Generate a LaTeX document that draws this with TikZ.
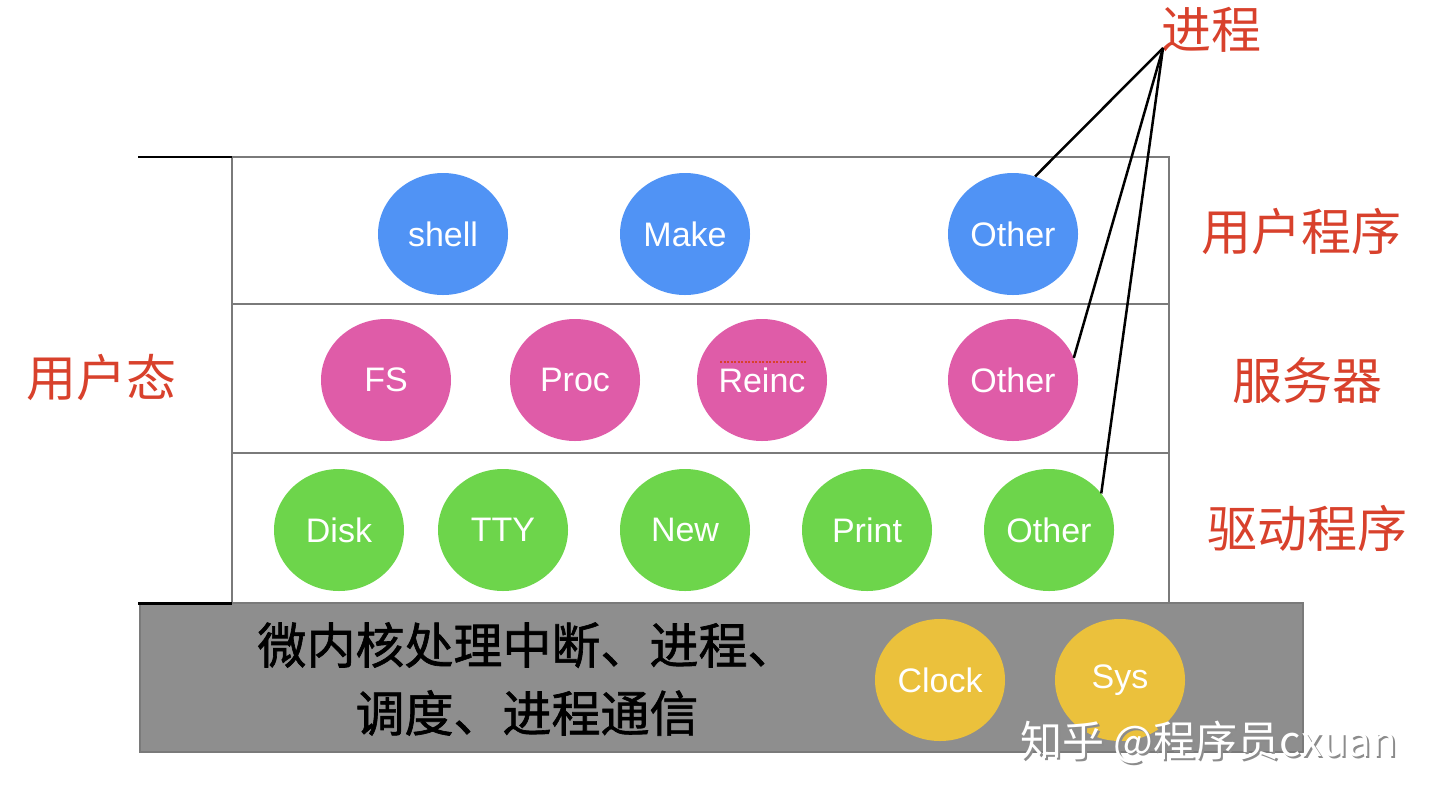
\documentclass[tikz,border=0pt]{standalone}
\usepackage{fontspec}
\setmainfont{Liberation Sans}
\newfontfamily\cjk{Noto Sans CJK SC}
\newfontfamily\cjkheavy[FakeBold=1.3]{Noto Sans CJK SC}
\usetikzlibrary{shapes.geometric}
\definecolor{cblue}{HTML}{5093F5}
\definecolor{cpink}{HTML}{DF5CA8}
\definecolor{cgreen}{HTML}{6DD54B}
\definecolor{cyellow}{HTML}{EBC13C}
\definecolor{cgray}{HTML}{8E8E8E}
\definecolor{cred}{HTML}{D8412C}
\definecolor{cline}{HTML}{7A7A7A}
\tikzset{
  proc/.style={ellipse, minimum width=130pt, minimum height=122pt, inner sep=0pt,
    text=white, font=\fontsize{34}{36}\selectfont},
  ublue/.style={proc, fill=cblue},
  upink/.style={proc, fill=cpink},
  ugreen/.style={proc, fill=cgreen},
  uyellow/.style={proc, fill=cyellow},
  redlabel/.style={text=cred, font=\cjk\fontsize{50}{54}\selectfont, inner sep=0pt},
  layer/.style={draw=cline, line width=2pt},
  link/.style={draw=black, line width=2.5pt},
  wmark/.style={font=\cjk\fontsize{42}{44}\selectfont, inner sep=0pt, anchor=west},
}
\begin{document}
\begin{tikzpicture}[x=1pt,y=-1pt]
\useasboundingbox (0,0) rectangle (1440,804);
% layers
\draw[layer] (232,157) rectangle (1169,603);
\draw[layer] (232,304) -- (1169,304);
\draw[layer] (232,453) -- (1169,453);
\draw[line width=2.5pt] (138,157) -- (232,157);
% kernel
\draw[fill=cgray, draw=cline, line width=2pt] (140,603) rectangle (1303,752);
\draw[line width=3pt] (138,603) -- (232,603);
\node[font=\cjkheavy\fontsize{49}{68}\selectfont, align=center, text=black, inner sep=0pt]
  (kern) at (527,679) {微内核处理中断、进程、\\调度、进程通信};
% user programs
\node[ublue] (shell) at (443,234) {shell};
\node[ublue] (make) at (685,234) {Make};
\node[ublue] (uo) at (1013,234) {Other};
% servers
\node[upink] (fs) at (386,380) {FS};
\node[upink] (procn) at (575,380) {Proc};
\node[upink] (reinc) at (762,380) {Reinc};
\node[upink] (so) at (1013,380) {Other};
\draw[cred, line width=1.2pt, dash pattern=on 2pt off 1.5pt] ([xshift=-42pt,yshift=18pt]reinc.center) -- ([xshift=44pt,yshift=18pt]reinc.center);
% drivers
\node[ugreen] (disk) at (339,530) {Disk};
\node[ugreen] (tty) at (503,530) {TTY};
\node[ugreen] (new) at (685,530) {New};
\node[ugreen] (print) at (867,530) {Print};
\node[ugreen] (dro) at (1049,530) {Other};
% kernel processes
\node[uyellow] (clock) at (940,680) {Clock};
\node[uyellow] (sys) at (1120,680) {Sys};
% labels
\node[redlabel] (jc) at (1211,30) {进程};
\node[redlabel] (yhcx) at (1301,232) {用户程序};
\node[redlabel] (fwq) at (1307,380) {服务器};
\node[redlabel] (qdcx) at (1307,528) {驱动程序};
\node[redlabel] (yht) at (101,378) {用户态};
\coordinate (apex) at (1163,48);
\draw[link] (apex) -- (uo.69);
\draw[link] (apex) -- (so.20);
\draw[link] (apex) -- (dro.35);
% watermark
\node[wmark, text=black!45] (wms) at (1022,744) {知乎 @程序员cxuan};
\node[wmark, text=white] (wm) at (1020,742) {知乎 @程序员cxuan};
\end{tikzpicture}
\end{document}
